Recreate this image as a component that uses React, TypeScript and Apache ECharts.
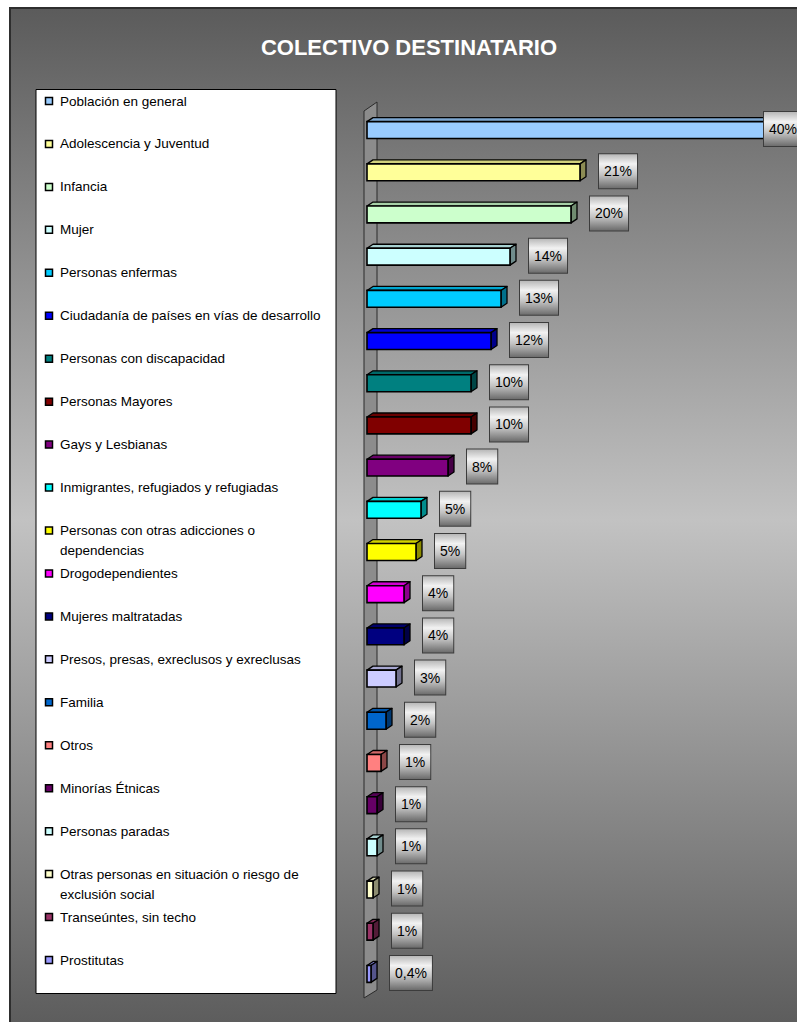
import { useEffect, useRef } from "react";
import * as echarts from "echarts";

const chartTitle = "COLECTIVO DESTINATARIO";

const categories = [
  "Población en general",
  "Adolescencia y Juventud",
  "Infancia",
  "Mujer",
  "Personas enfermas",
  "Ciudadanía de países en vías de desarrollo",
  "Personas con discapacidad",
  "Personas Mayores",
  "Gays y Lesbianas",
  "Inmigrantes, refugiados y refugiadas",
  "Personas con otras adicciones o dependencias",
  "Drogodependientes",
  "Mujeres maltratadas",
  "Presos, presas, exreclusos y exreclusas",
  "Familia",
  "Otros",
  "Minorías Étnicas",
  "Personas paradas",
  "Otras personas en situación o riesgo de exclusión social",
  "Transeúntes, sin techo",
  "Prostitutas",
];

const values = [
  39.7, 21.3, 20.4, 14.3, 13.4, 12.4, 10.4, 10.4, 8.1, 5.4, 4.9, 3.7, 3.7, 2.9,
  1.9, 1.4, 1.0, 1.0, 0.6, 0.6, 0.4,
];

const colors = [
  "#99CCFF",
  "#FFFF99",
  "#CCFFCC",
  "#CCFFFF",
  "#00CCFF",
  "#0000FF",
  "#008080",
  "#800000",
  "#800080",
  "#00FFFF",
  "#FFFF00",
  "#FF00FF",
  "#000080",
  "#CCCCFF",
  "#0066CC",
  "#FF8080",
  "#660066",
  "#CCFFFF",
  "#FFFFCC",
  "#993366",
  "#9999FF",
];

const FONT = '"Liberation Sans", Arial, Helvetica, sans-serif';

function fmt(v: number): string {
  const r = Math.round(v);
  return r >= 1 ? r + "%" : v.toFixed(1).replace(".", ",") + "%";
}

function wrapLabel(name: string): string {
  if (name.length <= 42) return name;
  const cut = name.lastIndexOf(" ", 40);
  return name.slice(0, cut) + "\n" + name.slice(cut + 1);
}

function shade(hex: string, f: number): string {
  const n = parseInt(hex.slice(1), 16);
  const r = Math.round(((n >> 16) & 255) * f);
  const g = Math.round(((n >> 8) & 255) * f);
  const b = Math.round((n & 255) * f);
  return `rgb(${r},${g},${b})`;
}

export default function App() {
  const ref = useRef<HTMLDivElement>(null);

  useEffect(() => {
    if (!ref.current) return;
    const chart = echarts.init(ref.current, undefined, { renderer: "svg" });

    const legendTop = 101;
    const legendStep = 42.95;

    const legendItems: any[] = [];
    categories.forEach((name, i) => {
      const cy = legendTop + i * legendStep;
      legendItems.push({
        type: "rect",
        shape: { x: 45.5, y: cy - 3.5, width: 7, height: 7 },
        style: { fill: colors[i], stroke: "#000", lineWidth: 1.5 },
        z: 3,
      });
      legendItems.push({
        type: "text",
        x: 60,
        y: cy - 10,
        style: {
          text: wrapLabel(name),
          fill: "#000",
          fontSize: 13.5,
          fontFamily: FONT,
          align: "left",
          verticalAlign: "top",
          lineHeight: 20,
        },
        z: 3,
      });
    });

    const labelBg = new echarts.graphic.LinearGradient(0, 0, 0, 1, [
      { offset: 0, color: "#b8b8b8" },
      { offset: 0.28, color: "#f2f2f2" },
      { offset: 0.6, color: "#c4c4c4" },
      { offset: 1, color: "#6c6c6c" },
    ]);

    const option: any = {
      animation: false,
      grid: { left: 367, right: 30, top: 109, bottom: 27, containLabel: false },
      xAxis: { type: "value", min: 0, max: 40, show: false },
      yAxis: { type: "category", data: categories, inverse: true, show: false },
      graphic: [
        {
          type: "rect",
          shape: { x: 10, y: 8, width: 800, height: 1024 },
          style: {
            fill: new echarts.graphic.LinearGradient(0, 0, 0, 1, [
              { offset: 0, color: "#5b5b5b" },
              { offset: 0.5, color: "#c2c2c2" },
              { offset: 1, color: "#5b5b5b" },
            ]),
            stroke: "#2e2e2e",
            lineWidth: 2,
          },
          z: 0,
        },
        {
          type: "text",
          x: 409,
          y: 47,
          style: {
            text: chartTitle,
            fill: "#ffffff",
            fontSize: 22,
            fontWeight: "bold",
            fontFamily: FONT,
            align: "center",
            verticalAlign: "middle",
          },
          z: 1,
        },
        {
          type: "rect",
          shape: { x: 36, y: 89.5, width: 300, height: 904 },
          style: { fill: "#ffffff", stroke: "#000", lineWidth: 1 },
          z: 1,
        },
        {
          type: "polygon",
          shape: {
            points: [
              [364, 111],
              [377, 102],
              [377, 990],
              [364, 998],
            ],
          },
          style: { fill: "#8c8c8c", stroke: "#2a2a2a", lineWidth: 1 },
          z: 1,
        },
        ...legendItems,
      ],
      series: [
        {
          type: "custom",
          encode: { x: 0, y: 1 },
          data: values.map((v, i) => [v, categories[i]]),
          renderItem: (params: any, api: any) => {
            const i = params.dataIndex;
            const v = api.value(0);
            const cat = api.value(1);
            const p0 = api.coord([0, cat]);
            const p1 = api.coord([v, cat]);
            const band = api.size([0, 1])[1];
            const h = band * 0.4;
            const dx = 6;
            const dy = 4;
            const x0 = p0[0];
            const x1 = p1[0];
            const yT = p0[1] - h / 2;
            const yB = p0[1] + h / 2;
            const c = colors[i];
            const cs = params.coordSys;
            const lx = Math.min(x1 + 19, cs.x + cs.width - 3);
            return {
              type: "group",
              children: [
                {
                  type: "polygon",
                  shape: {
                    points: [
                      [x0, yT],
                      [x0 + dx, yT - dy],
                      [x1 + dx, yT - dy],
                      [x1, yT],
                    ],
                  },
                  style: { fill: shade(c, 0.82), stroke: "#000", lineWidth: 1.3, lineJoin: "round" },
                },
                {
                  type: "polygon",
                  shape: {
                    points: [
                      [x1, yT],
                      [x1 + dx, yT - dy],
                      [x1 + dx, yB - dy],
                      [x1, yB],
                    ],
                  },
                  style: { fill: shade(c, 0.55), stroke: "#000", lineWidth: 1.3, lineJoin: "round" },
                },
                {
                  type: "rect",
                  shape: { x: x0, y: yT, width: x1 - x0, height: h },
                  style: { fill: c, stroke: "#000", lineWidth: 1.6 },
                },
                {
                  type: "text",
                  x: lx,
                  y: p0[1] - 1,
                  style: {
                    text: fmt(v),
                    fill: "#000",
                    fontSize: 14,
                    fontFamily: FONT,
                    align: "left",
                    verticalAlign: "middle",
                    lineHeight: 14,
                    padding: [10, 5],
                    backgroundColor: labelBg,
                    borderColor: "#3c3c3c",
                    borderWidth: 1,
                  },
                },
              ],
            };
          },
          z: 5,
        },
      ],
    };

    chart.setOption(option);
    return () => chart.dispose();
  }, []);

  return (
    <div
      ref={ref}
      style={{ position: "absolute", left: 0, top: 0, width: 797, height: 1022 }}
    />
  );
}
